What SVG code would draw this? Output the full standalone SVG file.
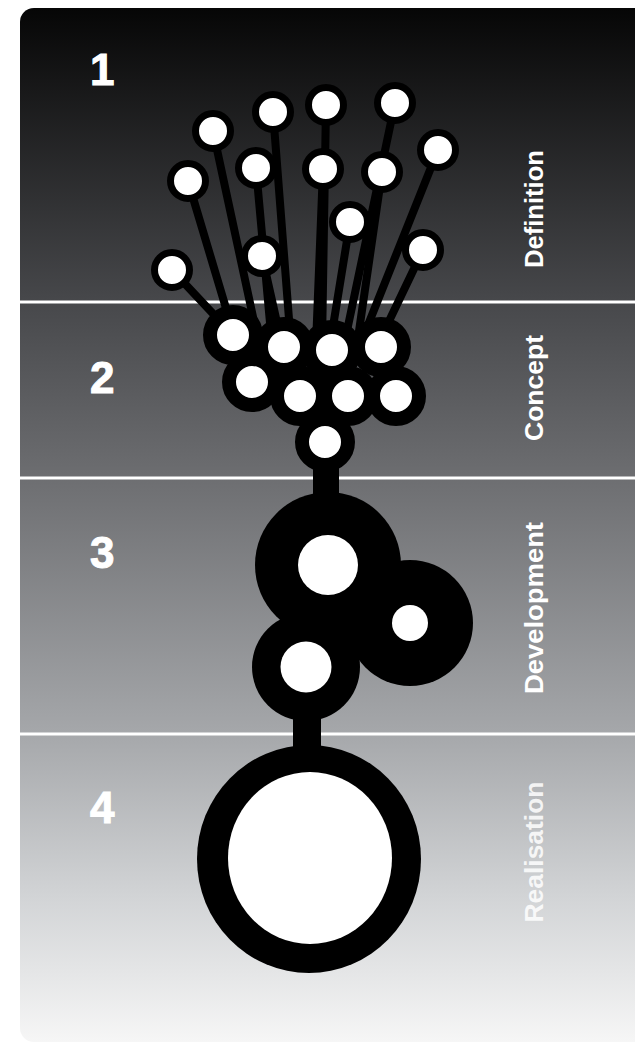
<svg xmlns="http://www.w3.org/2000/svg" width="635" height="1044" viewBox="0 0 635 1044">
<defs>
  <linearGradient id="bg" x1="0" y1="8" x2="0" y2="1042" gradientUnits="userSpaceOnUse">
    <stop offset="0" stop-color="#060606"/>
    <stop offset="0.28" stop-color="#46474a"/>
    <stop offset="0.45" stop-color="#6c6d70"/>
    <stop offset="0.70" stop-color="#a5a7aa"/>
    <stop offset="0.86" stop-color="#d2d4d6"/>
    <stop offset="1" stop-color="#f6f6f6"/>
  </linearGradient>
  <style>
    .stick{stroke:#000;stroke-width:8;stroke-linecap:round;fill:none}
    .stalk{stroke:#000;fill:none}
    .idea{fill:#fff;stroke:#000;stroke-width:7}
    .concept{fill:#fff;stroke:#000;stroke-width:14}
    .body{fill:#000}
    .core{fill:#fff}
    .num{font-family:"Liberation Sans",Arial,sans-serif;font-weight:bold;font-size:44px;fill:#fff;stroke:#fff;stroke-width:1}
    .label{font-family:"Liberation Sans",Arial,sans-serif;font-weight:bold;font-size:26px;fill:#fff;text-anchor:middle}
    .sep{stroke:#fff;stroke-width:3}
  </style>
</defs>
<rect width="635" height="1044" fill="#fff"/>
<rect id="panel" x="20" y="8" width="640" height="1034" rx="14" fill="url(#bg)"/>
<g id="separators">
  <line class="sep" x1="20" y1="302" x2="635" y2="302"/>
  <line class="sep" x1="20" y1="478" x2="635" y2="478"/>
  <line class="sep" x1="20" y1="734" x2="635" y2="734"/>
</g>
<g id="stage-numbers">
  <text class="num" x="90" y="85">1</text>
  <text class="num" x="90" y="393">2</text>
  <text class="num" x="90" y="568">3</text>
  <text class="num" x="90" y="823">4</text>
</g>
<g id="stage-labels">
  <text class="label" transform="translate(543,209) rotate(-90)" textLength="118" lengthAdjust="spacingAndGlyphs">Definition</text>
  <text class="label" transform="translate(543,388) rotate(-90)" textLength="106" lengthAdjust="spacingAndGlyphs">Concept</text>
  <text class="label" transform="translate(543,608) rotate(-90)" textLength="172" lengthAdjust="spacingAndGlyphs">Development</text>
  <text class="label" transform="translate(543,852) rotate(-90)" textLength="141" lengthAdjust="spacingAndGlyphs" fill-opacity="0.85">Realisation</text>
</g>
<g id="connectors">
  <line class="stick" x1="172" y1="270" x2="233" y2="335"/>
  <line class="stick" x1="188" y1="181" x2="234" y2="335"/>
  <line class="stick" x1="213" y1="131" x2="258" y2="340"/>
  <line class="stick" x1="256" y1="168" x2="272" y2="345"/>
  <line class="stick" x1="262" y1="256" x2="282" y2="345"/>
  <line class="stick" x1="273" y1="112" x2="291" y2="345"/>
  <line class="stick" x1="323" y1="169" x2="316" y2="345"/>
  <line class="stick" x1="326" y1="105" x2="322" y2="345"/>
  <line class="stick" x1="350" y1="222" x2="330" y2="345"/>
  <line class="stick" x1="395" y1="103" x2="344" y2="345"/>
  <line class="stick" x1="382" y1="172" x2="357" y2="345"/>
  <line class="stick" x1="438" y1="150" x2="362" y2="340"/>
  <line class="stick" x1="423" y1="250" x2="380" y2="340"/>
  <line class="stalk" x1="326" y1="450" x2="326" y2="505" stroke-width="26"/>
  <line class="stalk" x1="307" y1="700" x2="307" y2="765" stroke-width="28"/>
</g>
<g id="definition-nodes">
  <g id="idea-a"><circle class="idea" cx="213" cy="131" r="17.5"/></g>
  <g id="idea-b"><circle class="idea" cx="273" cy="112" r="17.5"/></g>
  <g id="idea-c"><circle class="idea" cx="326" cy="105" r="17.5"/></g>
  <g id="idea-d"><circle class="idea" cx="395" cy="103" r="17.5"/></g>
  <g id="idea-e"><circle class="idea" cx="438" cy="150" r="17.5"/></g>
  <g id="idea-f"><circle class="idea" cx="188" cy="181" r="17.5"/></g>
  <g id="idea-g"><circle class="idea" cx="256" cy="168" r="17.5"/></g>
  <g id="idea-h"><circle class="idea" cx="323" cy="169" r="17.5"/></g>
  <g id="idea-i"><circle class="idea" cx="382" cy="172" r="17.5"/></g>
  <g id="idea-j"><circle class="idea" cx="350" cy="222" r="17.5"/></g>
  <g id="idea-k"><circle class="idea" cx="262" cy="256" r="17.5"/></g>
  <g id="idea-l"><circle class="idea" cx="423" cy="250" r="17.5"/></g>
  <g id="idea-m"><circle class="idea" cx="172" cy="270" r="17.5"/></g>
</g>
<g id="concept-nodes">
  <g id="concept-1"><circle class="concept" cx="233" cy="335" r="23"/></g>
  <g id="concept-2"><circle class="concept" cx="284" cy="347" r="23"/></g>
  <g id="concept-3"><circle class="concept" cx="332" cy="350" r="23"/></g>
  <g id="concept-4"><circle class="concept" cx="381" cy="347" r="23"/></g>
  <g id="concept-5"><circle class="concept" cx="252" cy="382" r="23"/></g>
  <g id="concept-6"><circle class="concept" cx="300" cy="396" r="23"/></g>
  <g id="concept-7"><circle class="concept" cx="348" cy="396" r="23"/></g>
  <g id="concept-8"><circle class="concept" cx="396" cy="396" r="23"/></g>
  <g id="concept-9"><circle class="concept" cx="325" cy="442" r="23"/></g>
</g>
<g id="development-nodes">
  <g id="dev-1"><circle class="body" cx="328" cy="565" r="73"/><circle class="core" cx="328" cy="565" r="30"/></g>
  <g id="dev-2"><circle class="body" cx="410" cy="623" r="63"/><circle class="core" cx="410" cy="623" r="18"/></g>
  <g id="dev-3"><circle class="body" cx="306" cy="667" r="54"/><circle class="core" cx="306" cy="667" r="25.5"/></g>
</g>
<g id="realisation-node">
  <ellipse class="body" cx="309" cy="859" rx="112" ry="114"/>
  <ellipse class="core" cx="310" cy="858" rx="82" ry="86"/>
</g>
</svg>
